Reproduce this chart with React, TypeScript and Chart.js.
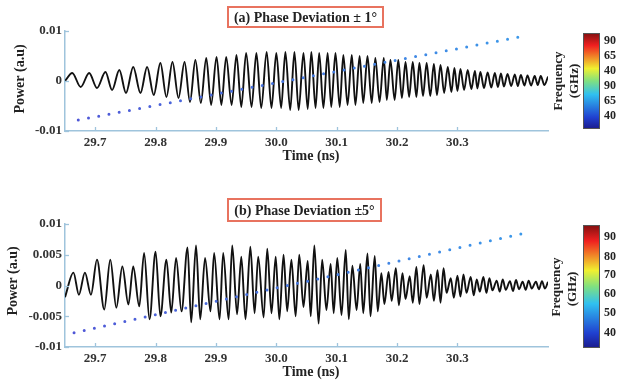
import React, { useEffect, useRef } from "react";
import { Chart, registerables } from "chart.js";
Chart.register(...registerables);

// ---------- data ----------
const xMin = 29.65;
const xMax = 30.45;
const xTicks = [29.7, 29.8, 29.9, 30.0, 30.1, 30.2, 30.3];
const yTicksA = [-0.01, 0, 0.01];
const yTicksB = [-0.01, -0.005, 0, 0.005, 0.01];

// Panel (a): Phase deviation ±1°
const startA = [29.65, 0];
const peakTimesA = [29.662, 29.69, 29.717, 29.74, 29.763, 29.786, 29.808, 29.828, 29.848, 29.866, 29.884, 29.901, 29.917, 29.934, 29.95, 29.967, 29.984, 30.0, 30.015, 30.03, 30.045, 30.058, 30.071, 30.085, 30.098, 30.111, 30.125, 30.138, 30.151, 30.164, 30.178, 30.189, 30.202, 30.214, 30.226, 30.237, 30.249, 30.261, 30.272, 30.284, 30.295, 30.305, 30.317, 30.329, 30.338, 30.35, 30.362, 30.372, 30.383, 30.395, 30.405, 30.416, 30.428, 30.438, 30.45];
const peakValuesA = [0.0016, 0.0016, 0.0018, 0.0022, 0.0028, 0.0028, 0.0036, 0.0038, 0.0038, 0.0042, 0.0046, 0.0048, 0.0048, 0.0052, 0.0056, 0.0056, 0.0058, 0.0056, 0.0058, 0.0058, 0.0056, 0.0058, 0.0056, 0.0056, 0.0056, 0.0052, 0.0052, 0.005, 0.005, 0.0046, 0.0046, 0.0042, 0.0042, 0.0038, 0.0038, 0.0036, 0.0036, 0.0034, 0.0032, 0.0028, 0.0026, 0.0024, 0.0022, 0.002, 0.0018, 0.0017, 0.0016, 0.0015, 0.0014, 0.0013, 0.0012, 0.0011, 0.001, 0.001, 0.0009];
const troughTimesA = [29.676, 29.703, 29.728, 29.751, 29.775, 29.797, 29.818, 29.838, 29.857, 29.875, 29.892, 29.909, 29.926, 29.942, 29.959, 29.975, 29.992, 30.008, 30.023, 30.037, 30.052, 30.065, 30.078, 30.091, 30.105, 30.118, 30.131, 30.144, 30.158, 30.171, 30.183, 30.196, 30.208, 30.22, 30.232, 30.243, 30.255, 30.266, 30.278, 30.29, 30.3, 30.311, 30.323, 30.333, 30.344, 30.356, 30.367, 30.377, 30.389, 30.4, 30.411, 30.422, 30.433, 30.444];
const troughValuesA = [-0.0012, -0.0014, -0.0018, -0.0024, -0.0024, -0.0028, -0.0032, -0.0034, -0.0042, -0.0044, -0.0048, -0.0048, -0.0048, -0.0052, -0.0052, -0.0054, -0.0054, -0.0054, -0.0058, -0.0058, -0.0056, -0.0054, -0.0054, -0.0052, -0.0052, -0.0048, -0.0048, -0.0044, -0.0044, -0.0042, -0.0038, -0.0038, -0.0034, -0.0032, -0.0032, -0.003, -0.003, -0.0028, -0.0024, -0.0022, -0.002, -0.0018, -0.0016, -0.0015, -0.0014, -0.0013, -0.0012, -0.0011, -0.001, -0.001, -0.0009, -0.0009, -0.0008, -0.0008];
const chirpTimesA = [29.672, 30.403];
const chirpValuesA = [-0.0078, 0.0088];
const colorbarLabelsA = ["90", "65", "40", "90", "65", "40"];

// Panel (b): Phase deviation ±5°
const startB = [29.65, -0.0019];
const peakTimesB = [29.664, 29.683, 29.703, 29.725, 29.745, 29.763, 29.781, 29.8, 29.818, 29.834, 29.853, 29.867, 29.882, 29.897, 29.912, 29.927, 29.942, 29.957, 29.97, 29.985, 29.999, 30.012, 30.025, 30.038, 30.052, 30.063, 30.076, 30.09, 30.101, 30.115, 30.126, 30.139, 30.151, 30.163, 30.174, 30.186, 30.198, 30.209, 30.221, 30.232, 30.244, 30.256, 30.267, 30.277, 30.289, 30.3, 30.31, 30.322, 30.332, 30.343, 30.353, 30.365, 30.375, 30.387, 30.397, 30.408, 30.418, 30.43, 30.44, 30.45];
const peakValuesB = [0.0021, 0.0021, 0.0042, 0.0042, 0.0031, 0.0031, 0.0053, 0.0055, 0.0042, 0.0045, 0.0062, 0.0065, 0.0045, 0.0053, 0.0053, 0.0065, 0.0047, 0.0063, 0.0047, 0.006, 0.0047, 0.005, 0.0042, 0.005, 0.004, 0.0065, 0.0042, 0.0035, 0.0045, 0.0058, 0.0032, 0.0035, 0.0052, 0.0048, 0.002, 0.0022, 0.0028, 0.002, 0.0015, 0.003, 0.0033, 0.0018, 0.0025, 0.0028, 0.0012, 0.0016, 0.0018, 0.0014, 0.001, 0.0014, 0.0012, 0.0008, 0.001, 0.0007, 0.0009, 0.0006, 0.0008, 0.0006, 0.0007, 0.0006];
const troughTimesB = [29.673, 29.693, 29.715, 29.735, 29.755, 29.773, 29.79, 29.808, 29.826, 29.843, 29.859, 29.874, 29.891, 29.906, 29.921, 29.935, 29.949, 29.964, 29.979, 29.992, 30.005, 30.018, 30.032, 30.045, 30.057, 30.07, 30.083, 30.095, 30.108, 30.12, 30.133, 30.144, 30.156, 30.168, 30.179, 30.191, 30.203, 30.214, 30.226, 30.237, 30.249, 30.261, 30.272, 30.282, 30.294, 30.305, 30.315, 30.327, 30.337, 30.348, 30.358, 30.37, 30.38, 30.392, 30.402, 30.413, 30.423, 30.435, 30.445];
const troughValuesB = [-0.0015, -0.0015, -0.0039, -0.0036, -0.0031, -0.0034, -0.0055, -0.005, -0.0044, -0.0042, -0.006, -0.0055, -0.0042, -0.0055, -0.0055, -0.0047, -0.0055, -0.0045, -0.0052, -0.0045, -0.0055, -0.0042, -0.005, -0.0035, -0.005, -0.0062, -0.004, -0.0045, -0.0048, -0.0055, -0.004, -0.0045, -0.005, -0.0042, -0.003, -0.0025, -0.0032, -0.0022, -0.0028, -0.003, -0.002, -0.0025, -0.0028, -0.0012, -0.002, -0.0018, -0.0012, -0.0016, -0.001, -0.0012, -0.0008, -0.001, -0.0007, -0.0009, -0.0006, -0.0007, -0.0005, -0.0006, -0.0005];
const chirpTimesB = [29.665, 30.41];
const chirpValuesB = [-0.0077, 0.0085];
const colorbarLabelsB = ["90", "80", "70", "60", "50", "40"];

// ---------- styling ----------
const SERIF = "'Liberation Serif', 'Times New Roman', serif";
const AXIS = "#9fc4dc";
const TEXT = "#222";

function buildWave(start: number[], pt: number[], pv: number[], tt: number[], tv: number[]) {
  const pts: { x: number; y: number }[] = [{ x: start[0], y: start[1] }];
  pt.forEach((t, i) => pts.push({ x: t, y: pv[i] }));
  tt.forEach((t, i) => pts.push({ x: t, y: tv[i] }));
  pts.sort((a, b) => a.x - b.x);
  return pts;
}

type Decor = {
  yTicks: number[];
  title: string;
  box: [number, number, number, number];
  yTitle: [number, number];
  xTitle: [number, number];
  cbar: [number, number, number, number];
  cbarLabels: string[];
  cbarLabelY: number[];
  freq: [number, number, number, number];
};

function decorPlugin(d: Decor) {
  return {
    id: "decor",
    afterDraw(chart: any) {
      const c: CanvasRenderingContext2D = chart.ctx;
      const xs = chart.scales.x;
      const ys = chart.scales.y;
      c.save();
      // inward tick marks
      c.strokeStyle = AXIS;
      c.lineWidth = 1.3;
      xTicks.forEach((v) => {
        const px = Math.round(xs.getPixelForValue(v)) + 0.5;
        c.beginPath();
        c.moveTo(px, ys.bottom);
        c.lineTo(px, ys.bottom - 4);
        c.stroke();
      });
      d.yTicks.forEach((v) => {
        const py = Math.round(ys.getPixelForValue(v)) + 0.5;
        c.beginPath();
        c.moveTo(xs.left, py);
        c.lineTo(xs.left + 4, py);
        c.stroke();
      });
      // title box
      const [bx, by, bw, bh] = d.box;
      c.fillStyle = "#fff";
      c.fillRect(bx, by, bw, bh);
      c.strokeStyle = "#e8735f";
      c.lineWidth = 2;
      c.strokeRect(bx, by, bw, bh);
      c.fillStyle = TEXT;
      c.font = `bold 14px ${SERIF}`;
      c.textAlign = "center";
      c.textBaseline = "middle";
      c.fillText(d.title, bx + bw / 2, by + bh / 2 + 1);
      // axis titles
      c.fillText("Time (ns)", d.xTitle[0], d.xTitle[1]);
      c.save();
      c.translate(d.yTitle[0], d.yTitle[1]);
      c.rotate(-Math.PI / 2);
      c.fillText("Power (a.u)", 0, 0);
      c.restore();
      // colorbar
      const [cx, cy, cw, ch] = d.cbar;
      const g = c.createLinearGradient(0, cy + ch, 0, cy);
      g.addColorStop(0, "#1a1a8c");
      g.addColorStop(0.12, "#2040d0");
      g.addColorStop(0.36, "#30c0f0");
      g.addColorStop(0.5, "#80e080");
      g.addColorStop(0.63, "#f0f030");
      g.addColorStop(0.87, "#f02020");
      g.addColorStop(1, "#801010");
      c.fillStyle = g;
      c.fillRect(cx, cy, cw, ch);
      c.strokeStyle = "#555";
      c.lineWidth = 1;
      c.strokeRect(cx + 0.5, cy + 0.5, cw - 1, ch - 1);
      c.fillStyle = TEXT;
      c.font = `bold 12px ${SERIF}`;
      c.textAlign = "left";
      d.cbarLabels.forEach((l, i) => c.fillText(l, cx + cw + 4, d.cbarLabelY[i]));
      c.font = `bold 13px ${SERIF}`;
      c.textAlign = "center";
      c.save();
      c.translate(d.freq[0], d.freq[1]);
      c.rotate(-Math.PI / 2);
      c.fillText("Frequency", 0, 0);
      c.restore();
      c.save();
      c.translate(d.freq[2], d.freq[3]);
      c.rotate(-Math.PI / 2);
      c.fillText("(GHz)", 0, 0);
      c.restore();
      c.restore();
    },
  };
}

function makeConfig(
  wave: { x: number; y: number }[],
  chirpT: number[],
  chirpV: number[],
  yTicks: number[],
  padTop: number,
  xHeight: number,
  decor: Decor
): any {
  const chirp = chirpT.map((t, i) => ({ x: t, y: chirpV[i] }));
  const tickFont = { family: SERIF, size: 13, weight: "bold" as const };
  return {
    type: "line",
    data: {
      datasets: [
        {
          data: chirp,
          borderColor: (ctx: any) => {
            const ch = ctx.chart;
            const a = ch.chartArea;
            if (!a) return "#3b7fe0";
            const gr = ch.ctx.createLinearGradient(a.left, 0, a.right, 0);
            gr.addColorStop(0, "#4f55d6");
            gr.addColorStop(1, "#3a9cea");
            return gr;
          },
          borderWidth: 3,
          borderDash: [0, 10.4],
          borderCapStyle: "round",
          pointRadius: 0,
          fill: false,
        },
        {
          data: wave,
          borderColor: "#111",
          borderWidth: 1.9,
          pointRadius: 0,
          cubicInterpolationMode: "monotone",
          fill: false,
        },
      ],
    },
    options: {
      animation: false,
      responsive: false,
      maintainAspectRatio: false,
      events: [],
      layout: { padding: { left: 0, right: 71, top: padTop, bottom: 0 } },
      plugins: { legend: { display: false }, tooltip: { enabled: false }, title: { display: false } },
      scales: {
        x: {
          type: "linear",
          min: xMin,
          max: xMax,
          afterBuildTicks: (s: any) => {
            s.ticks = xTicks.map((v) => ({ value: v }));
          },
          afterFit: (s: any) => {
            s.height = xHeight;
          },
          grid: { display: false, drawTicks: false },
          border: { display: true, color: AXIS, width: 1.5 },
          ticks: {
            autoSkip: false,
            maxRotation: 0,
            padding: 4,
            color: "#333",
            font: tickFont,
            callback: (v: any) => Number(v).toFixed(1),
          },
        },
        y: {
          type: "linear",
          min: -0.01,
          max: 0.01,
          afterBuildTicks: (s: any) => {
            s.ticks = yTicks.map((v) => ({ value: v }));
          },
          afterFit: (s: any) => {
            s.width = 65;
          },
          grid: { display: false, drawTicks: false },
          border: { display: true, color: AXIS, width: 1.5 },
          ticks: {
            padding: 3,
            color: "#333",
            font: tickFont,
            callback: (v: any) => String(v),
          },
        },
      },
    },
    plugins: [decorPlugin(decor)],
  };
}

export default function App() {
  const refA = useRef<HTMLCanvasElement>(null);
  const refB = useRef<HTMLCanvasElement>(null);

  useEffect(() => {
    const waveA = buildWave(startA, peakTimesA, peakValuesA, troughTimesA, troughValuesA);
    const waveB = buildWave(startB, peakTimesB, peakValuesB, troughTimesB, troughValuesB);
    const chartA = new Chart(
      refA.current as HTMLCanvasElement,
      makeConfig(waveA, chirpTimesA, chirpValuesA, yTicksA, 31, 54, {
        yTicks: yTicksA,
        title: "(a) Phase Deviation \u00b1 1\u00b0",
        box: [228, 7, 155, 20],
        yTitle: [20, 79],
        xTitle: [311, 156],
        cbar: [583, 33, 17, 96],
        cbarLabels: colorbarLabelsA,
        cbarLabelY: [41, 56, 71, 86, 101, 116],
        freq: [559, 81, 575, 81],
      })
    );
    const chartB = new Chart(
      refB.current as HTMLCanvasElement,
      makeConfig(waveB, chirpTimesB, chirpValuesB, yTicksB, 39, 33, {
        yTicks: yTicksB,
        title: "(b) Phase Deviation \u00b15\u00b0",
        box: [228, 14, 153, 22],
        yTitle: [13, 96],
        xTitle: [311, 187],
        cbar: [583, 40, 17, 123],
        cbarLabels: colorbarLabelsB,
        cbarLabelY: [52, 72, 90, 109, 128, 148],
        freq: [557, 102, 573, 104],
      })
    );
    return () => {
      chartA.destroy();
      chartB.destroy();
    };
  }, []);

  return (
    <div style={{ position: "fixed", left: 0, top: 0, width: 619, height: 380, background: "#fff" }}>
      <canvas ref={refA} width={619} height={185} style={{ position: "absolute", left: 0, top: 0, width: 619, height: 185 }} />
      <canvas ref={refB} width={619} height={195} style={{ position: "absolute", left: 0, top: 185, width: 619, height: 195 }} />
    </div>
  );
}
